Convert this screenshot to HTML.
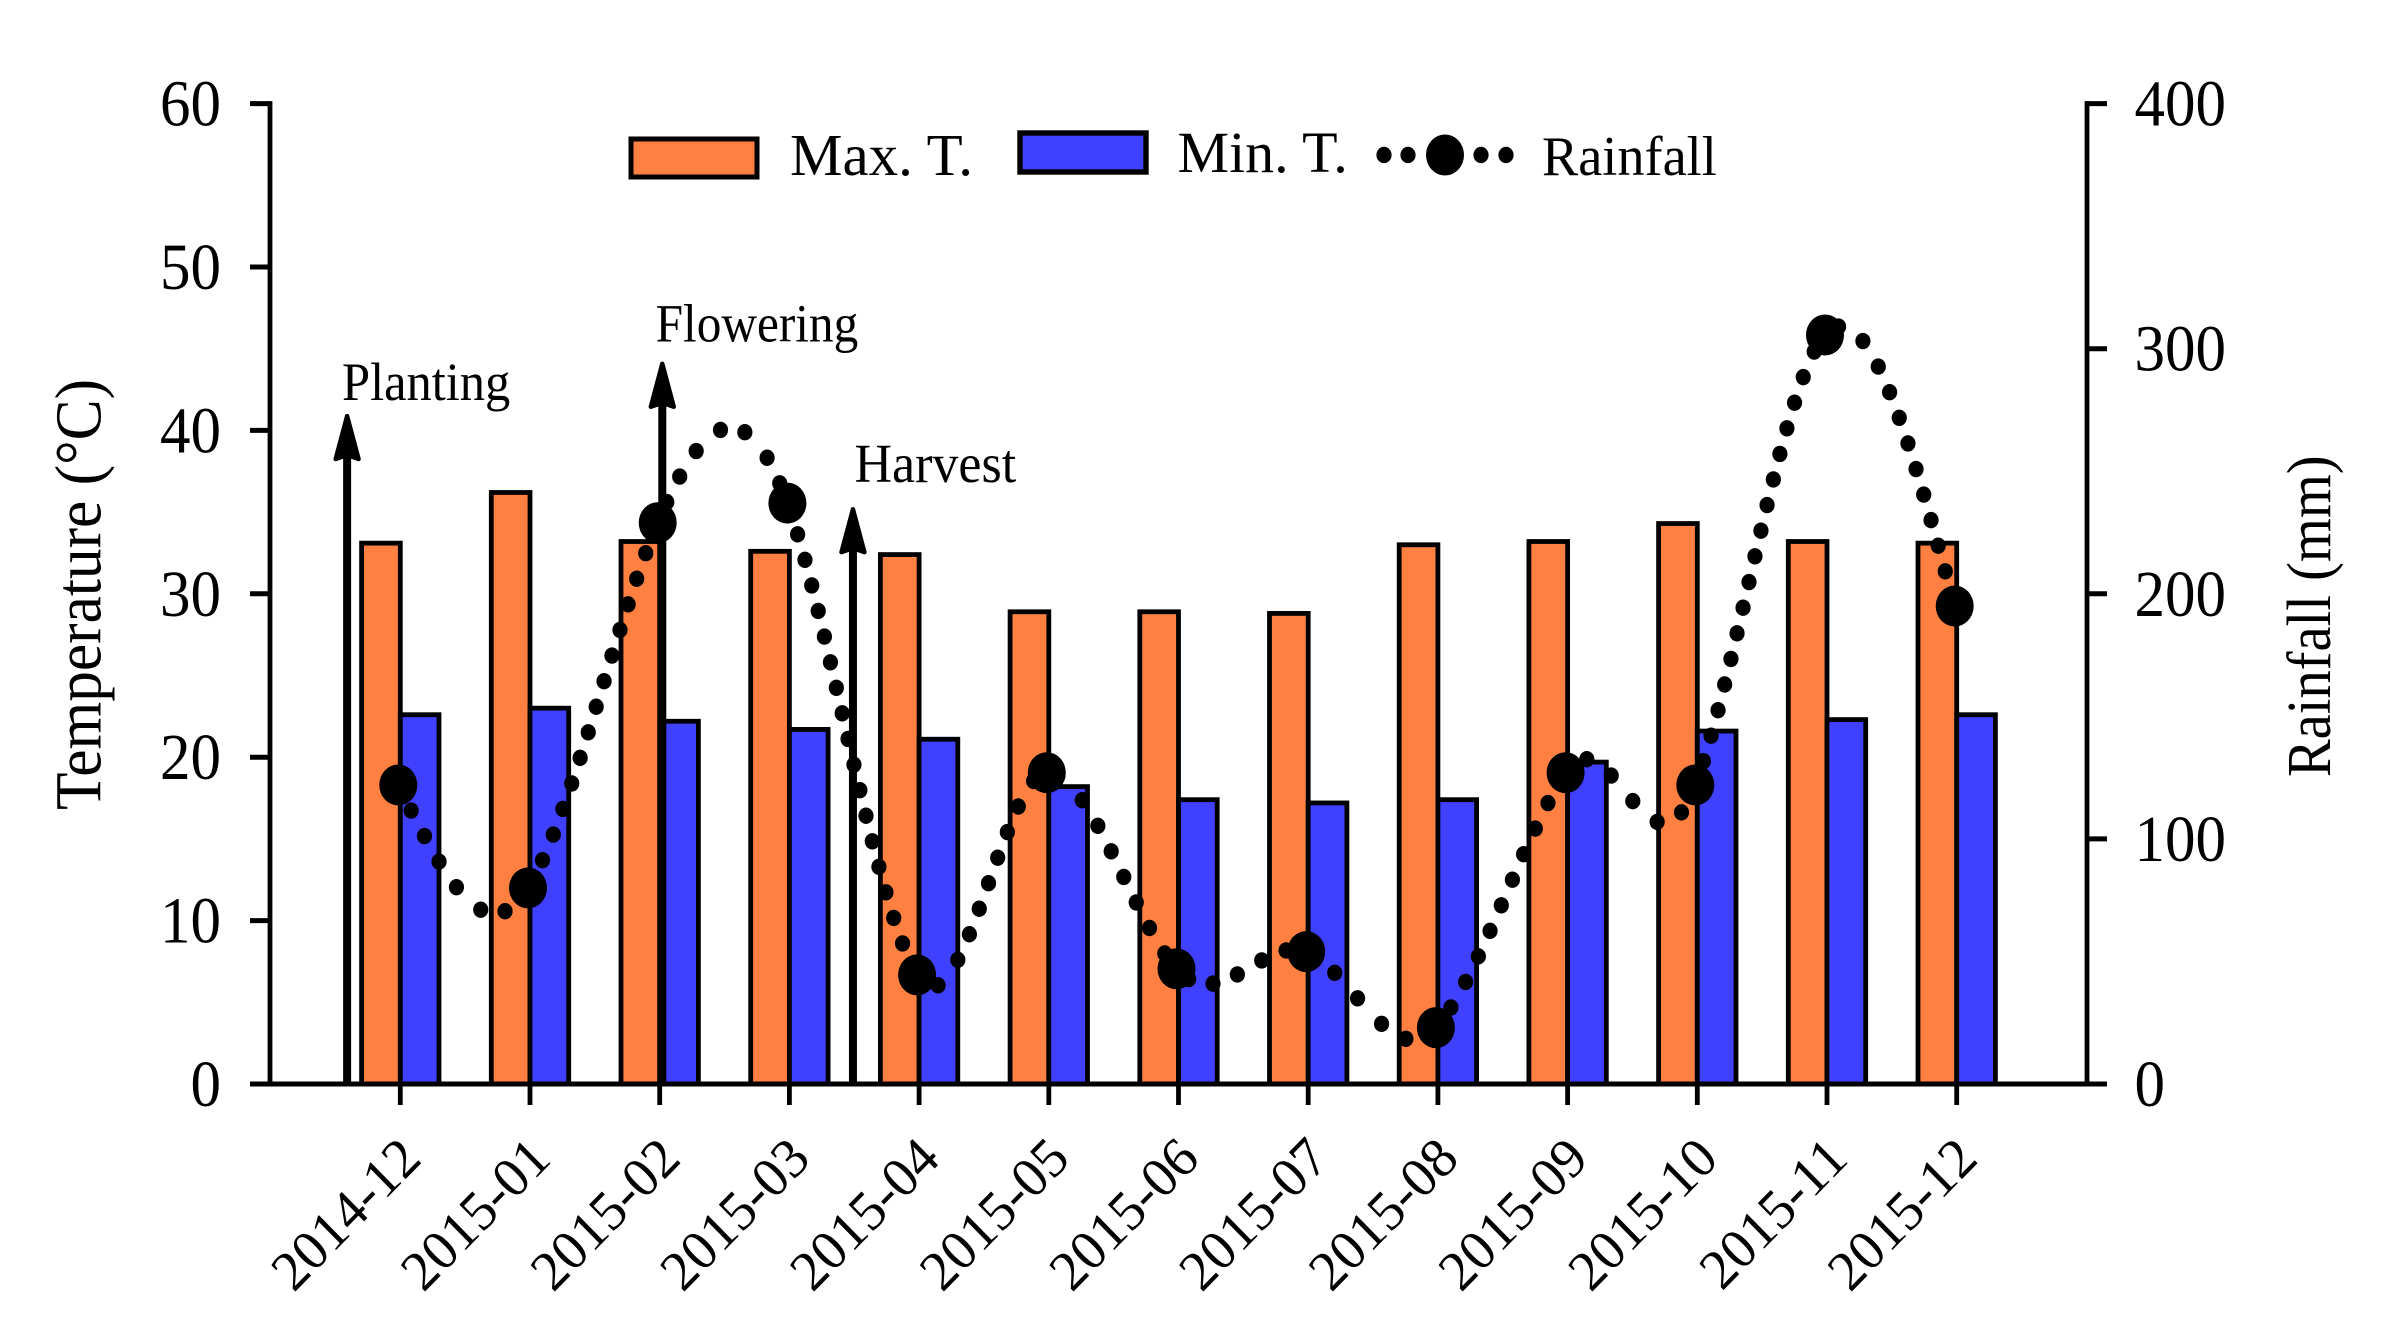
<!DOCTYPE html>
<html lang="en">
<head>
<meta charset="utf-8">
<title>Temperature and rainfall, 2014-12 to 2015-12</title>
<style>
  html, body { margin: 0; padding: 0; background: #fff; }
  svg { display: block; }
  text { font-family: "Liberation Serif", "Times New Roman", serif; fill: #000; }
</style>
</head>
<body>
<svg id="chart" xmlns="http://www.w3.org/2000/svg" width="2401" height="1331" viewBox="0 0 2401 1331">
  <rect x="0" y="0" width="2401" height="1331" fill="#ffffff"/>
  <g id="bars"></g>
  <g id="axes"></g>
  <g id="arrows"></g>
  <g id="rain"></g>
  <g id="labels"></g>

  <text font-size="61.4" transform="translate(100.5 810) rotate(-90) scale(1 1.07)">Temperature (°C)</text>
  <text font-size="56.5" transform="translate(2330 777) rotate(-90) scale(1 1.11)">Rainfall (mm)</text>

  <g>
    <g>
      <rect x="631" y="139" width="126" height="38" fill="#ff8040" stroke="#000" stroke-width="5"/>
      <text font-size="59" transform="translate(790 175)">Max. T.</text>
    </g>
    <g>
      <rect x="1020" y="133" width="126" height="39" fill="#4040ff" stroke="#000" stroke-width="5.4"/>
      <text font-size="58" transform="translate(1177.5 172)">Min. T.</text>
    </g>
    <g>
      <ellipse cx="1384" cy="155" rx="7.6" ry="8.2"/>
      <ellipse cx="1408" cy="155" rx="7.6" ry="8.2"/>
      <ellipse cx="1445" cy="155" rx="19" ry="20.5"/>
      <ellipse cx="1481" cy="155" rx="7.6" ry="8.2"/>
      <ellipse cx="1506" cy="155" rx="7.6" ry="8.2"/>
      <text font-size="54.3" transform="translate(1542 175) scale(1 1.04)">Rainfall</text>
    </g>
  </g>

  <text font-size="50.5" transform="translate(342 400) scale(1 1.07)">Planting</text>
  <text font-size="49.3" transform="translate(655.6 341.5) scale(1 1.1)">Flowering</text>
  <text font-size="52" transform="translate(854.5 482) scale(1 1.05)">Harvest</text>
</svg>

<script>
// ---- chart data ----
const categories = ["2014-12","2015-01","2015-02","2015-03","2015-04","2015-05","2015-06","2015-07","2015-08","2015-09","2015-10","2015-11","2015-12"];
const maxTemp = [33.1,36.2,33.2,32.6,32.4,28.9,28.9,28.8,33.0,33.2,34.3,33.2,33.1];
const minTemp = [22.6,23.0,22.2,21.7,21.1,18.2,17.4,17.2,17.4,19.7,21.6,22.3,22.6];
const rainfall = [122,80,229,237,44.5,127,47,54,23,127,122,305.6,195];
const tempTicks = [0,10,20,30,40,50,60];
const rainTicks = [0,100,200,300,400];
const stageNames = ["planting","flowering","harvest"];
const stagePositions = [-0.41,2.02,3.49];
const stageTemps = [41,44.2,35.3];

// ---- axis functions ----
const NS = "http://www.w3.org/2000/svg";
const xAxisLeft = 270, xAxisRight = 2087, yZero = 1084, yTop = 103.6;
const xScale = i => 400.3 + 129.7 * i;
const yTemp = v => yZero - (yZero - yTop) * v / 60;
const yRain = v => yZero - (yZero - yTop) * v / 400;
const barWidth = 38.7, markerShift = -2;

function make(tag, attrs, parent) {
  const el = document.createElementNS(NS, tag);
  for (const k in attrs) el.setAttribute(k, attrs[k]);
  parent.appendChild(el);
  return el;
}

const barsG = document.getElementById("bars");
const axesG = document.getElementById("axes");
const arrowsG = document.getElementById("arrows");
const rainG = document.getElementById("rain");
const labelsG = document.getElementById("labels");

// ---- bars ----
categories.forEach((c, i) => {
  const x = xScale(i);
  const a = make("rect", {x: x - barWidth, y: yTemp(maxTemp[i]), width: barWidth, height: yZero - yTemp(maxTemp[i]), fill: "#ff8040", stroke: "#000", "stroke-width": 4.8}, barsG);
  
  
  const b = make("rect", {x: x, y: yTemp(minTemp[i]), width: barWidth, height: yZero - yTemp(minTemp[i]), fill: "#4040ff", stroke: "#000", "stroke-width": 4.8}, barsG);
  
  
});

// ---- axes ----
function axisLine(x1, y1, x2, y2, w, name) {
  const l = make("line", {x1, y1, x2, y2, stroke: "#000", "stroke-width": w}, axesG);
  
  
}
axisLine(xAxisLeft, yTop - 2.5, xAxisLeft, yZero + 2.5, 4.8, "left-axis-line");
axisLine(xAxisRight, yTop - 2.5, xAxisRight, yZero + 2.5, 4.8, "right-axis-line");
axisLine(250, yZero, 2107, yZero, 5, "x-axis-line");
tempTicks.forEach(v => {
  axisLine(250, yTemp(v), xAxisLeft, yTemp(v), 5, "left-axis-tick");
  const t = make("text", {"font-size": 61, "text-anchor": "end", transform: `translate(221 ${yTemp(v) + 22}) scale(1 1.07)`}, labelsG);
  
  
  t.textContent = v;
});
rainTicks.forEach(v => {
  axisLine(xAxisRight, yRain(v), 2107, yRain(v), 5, "right-axis-tick");
  const t = make("text", {"font-size": 61, transform: `translate(2134.5 ${yRain(v) + 22}) scale(1 1.07)`}, labelsG);
  
  
  t.textContent = v;
});
categories.forEach((c, i) => {
  axisLine(xScale(i), yZero, xScale(i), 1105, 4.8, "x-axis-tick");
  const t = make("text", {"font-size": 55, "text-anchor": "end", transform: `translate(${xScale(i) + 23} 1161) scale(1 1.02) rotate(-45)`}, labelsG);
  
  
  t.textContent = c;
});

// ---- growth-stage arrows ----
stageNames.forEach((n, i) => {
  const x = xScale(stagePositions[i]);
  const tip = yTemp(stageTemps[i]);
  const s = make("line", {x1: x, y1: yZero, x2: x, y2: tip + 40, stroke: "#000", "stroke-width": 8}, arrowsG);
  
  
  const h = make("polygon", {points: `${x},${tip + 2} ${x + 11.5},${tip + 45} ${x},${tip + 41} ${x - 11.5},${tip + 45}`, fill: "#000", stroke: "#000", "stroke-width": 4.4, "stroke-linejoin": "round"}, arrowsG);
  
  
});

// ---- rainfall smoothed curve (cardinal spline, dotted) ----
const px = rainfall.map((v, i) => xScale(i) + markerShift);
const py = rainfall.map(v => yRain(v));

const tangentGain = 1.6;
function splineTangents(ys) {
  const n = ys.length, m = new Array(n).fill(0);
  for (let i = 1; i < n - 1; i++) m[i] = tangentGain * (ys[i + 1] - ys[i - 1]) / 2;
  m[0] = (3 * (ys[1] - ys[0]) - m[1]) / 2;
  m[n - 1] = (3 * (ys[n - 1] - ys[n - 2]) - m[n - 2]) / 2;
  return m;
}
const tangents = splineTangents(py);
function splineAt(x) {
  let k = 0;
  while (k < px.length - 2 && x > px[k + 1]) k++;
  const t = (x - px[k]) / (px[k + 1] - px[k]);
  const t2 = t * t, t3 = t2 * t;
  return (2 * t3 - 3 * t2 + 1) * py[k] + (t3 - 2 * t2 + t) * tangents[k] + (-2 * t3 + 3 * t2) * py[k + 1] + (t3 - t2) * tangents[k + 1];
}

// Dots are stepped at a fixed horizontal or vertical pitch, whichever is reached first.
const dotPitchX = 24.3, dotPitchY = 25.5;
let lastX = px[0], lastY = py[0];
for (let x = px[0]; x <= px[px.length - 1]; x += 0.05) {
  const y = splineAt(x);
  if (Math.max(Math.abs(x - lastX) / dotPitchX, Math.abs(y - lastY) / dotPitchY) >= 1) {
    const d = make("ellipse", {cx: x, cy: y, rx: 7.6, ry: 8.2, fill: "#000"}, rainG);
    
    
    lastX = x; lastY = y;
  }
}
rainfall.forEach((v, i) => {
  const m = make("ellipse", {cx: px[i], cy: py[i], rx: 19, ry: 20.5, fill: "#000"}, rainG);
  
  
});
</script>
</body>
</html>
